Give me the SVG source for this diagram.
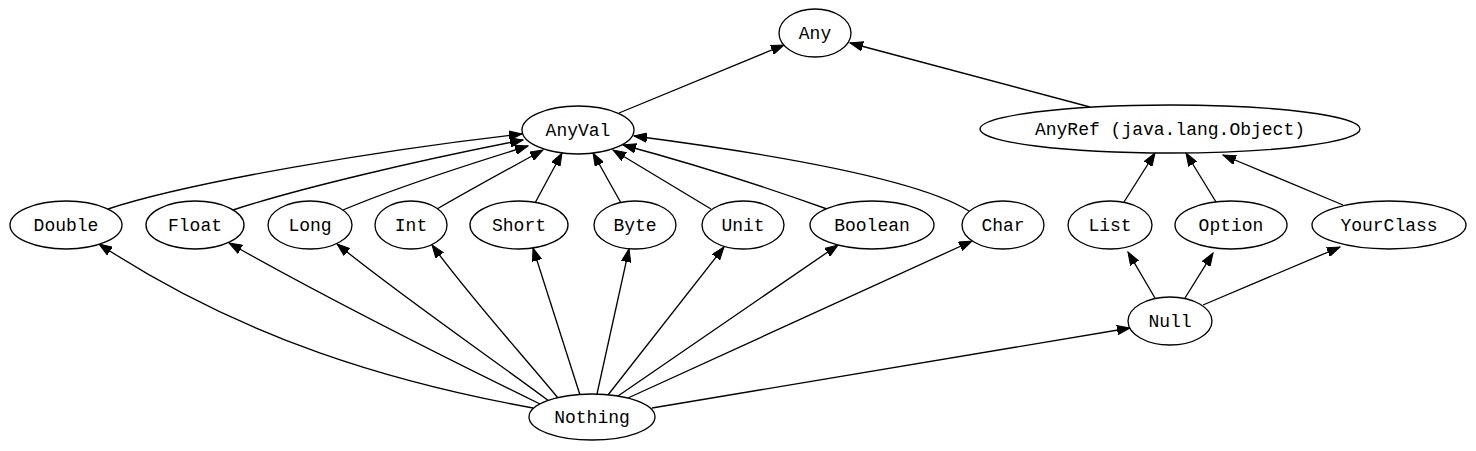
<svg xmlns="http://www.w3.org/2000/svg" width="1476" height="451" viewBox="0 0 1476 451">
<style>
.n ellipse{fill:#fff;stroke:#000;stroke-width:1.33}
.n text{font-family:"Liberation Mono","Courier New",monospace;font-size:18px;text-anchor:middle;fill:#000}
#edges path{fill:none;stroke:#000;stroke-width:1.33;marker-end:url(#ah)}
</style>
<defs>
<marker id="ah" markerUnits="userSpaceOnUse" markerWidth="14" markerHeight="10" viewBox="0 0 14 10" refX="13" refY="5" orient="auto">
<path d="M0,0.3 L13,5 L0,9.7 z" fill="#000" stroke="#000" stroke-width="1"/>
</marker>
</defs>
<rect width="1476" height="451" fill="#fff"/>
<g id="edges">
<path d="M619,113 L784,45"/>
<path d="M1090,107 L850,43"/>
<path d="M108,209 C190,182 380,150 522,134"/>
<path d="M233,210 C300,188 420,160 523,140"/>
<path d="M343,210 C390,190 460,167 528,146"/>
<path d="M437,209 C470,190 510,168 543,150"/>
<path d="M535,203 L562,153"/>
<path d="M621,203 L593,153"/>
<path d="M711,209 L613,150"/>
<path d="M827,209 C760,185 690,163 623,145"/>
<path d="M969,211 C920,180 780,155 634,136"/>
<path d="M1124,202 L1155,153"/>
<path d="M1216,202 L1186,153"/>
<path d="M1343,205 L1223,155"/>
<path d="M533,408 C395,383 245,340 99,244"/>
<path d="M540,404 C450,360 330,300 229,243"/>
<path d="M549,401 C480,350 400,295 337,244"/>
<path d="M558,398 C520,352 470,297 432,245"/>
<path d="M580,395 L533,248"/>
<path d="M597,394 L629,249"/>
<path d="M608,395 L724,247"/>
<path d="M618,396 L838,245"/>
<path d="M628,398 L972,241"/>
<path d="M652,408 L1130,328"/>
<path d="M1155,298 L1128,252"/>
<path d="M1185,298 L1213,253"/>
<path d="M1203,305 L1340,247"/>
</g>
<g id="Any" class="n"><ellipse cx="815" cy="33" rx="36" ry="24"/><text x="815" y="39">Any</text></g>
<g id="AnyVal" class="n"><ellipse cx="578" cy="130" rx="56" ry="24"/><text x="578" y="136">AnyVal</text></g>
<g id="AnyRef" class="n"><ellipse cx="1170" cy="129" rx="190" ry="24"/><text x="1170" y="135">AnyRef (java.lang.Object)</text></g>
<g id="Double" class="n"><ellipse cx="66" cy="225" rx="56" ry="24"/><text x="66" y="231">Double</text></g>
<g id="Float" class="n"><ellipse cx="195" cy="225" rx="49" ry="24"/><text x="195" y="231">Float</text></g>
<g id="Long" class="n"><ellipse cx="310" cy="225" rx="42" ry="24"/><text x="310" y="231">Long</text></g>
<g id="Int" class="n"><ellipse cx="411" cy="225" rx="36" ry="24"/><text x="411" y="231">Int</text></g>
<g id="Short" class="n"><ellipse cx="519" cy="225" rx="49" ry="24"/><text x="519" y="231">Short</text></g>
<g id="Byte" class="n"><ellipse cx="635" cy="225" rx="41" ry="24"/><text x="635" y="231">Byte</text></g>
<g id="Unit" class="n"><ellipse cx="743" cy="225" rx="41" ry="24"/><text x="743" y="231">Unit</text></g>
<g id="Boolean" class="n"><ellipse cx="872" cy="225" rx="62" ry="24"/><text x="872" y="231">Boolean</text></g>
<g id="Char" class="n"><ellipse cx="1003" cy="225" rx="41" ry="24"/><text x="1003" y="231">Char</text></g>
<g id="List" class="n"><ellipse cx="1110" cy="225" rx="42" ry="24"/><text x="1110" y="231">List</text></g>
<g id="Option" class="n"><ellipse cx="1231" cy="225" rx="56" ry="24"/><text x="1231" y="231">Option</text></g>
<g id="YourClass" class="n"><ellipse cx="1389" cy="225" rx="77" ry="24"/><text x="1389" y="231">YourClass</text></g>
<g id="Null" class="n"><ellipse cx="1170" cy="321" rx="42" ry="24"/><text x="1170" y="327">Null</text></g>
<g id="Nothing" class="n"><ellipse cx="592" cy="417" rx="63" ry="23"/><text x="592" y="423">Nothing</text></g>
</svg>
